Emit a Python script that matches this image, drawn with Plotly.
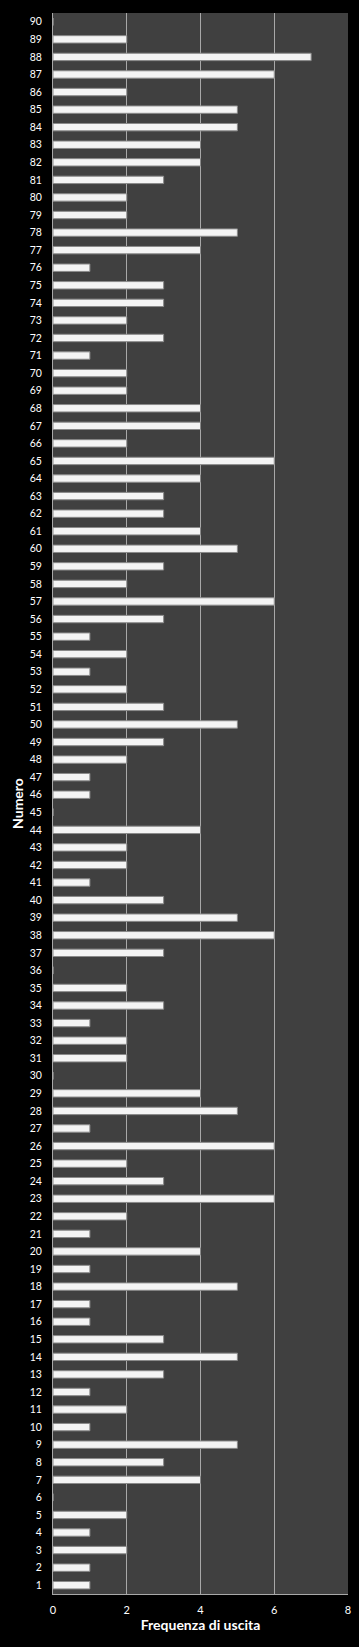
import plotly.graph_objects as go

numeri = list(range(1, 91))
frequenze = [
    1, 1, 2, 1, 2, 0, 4, 3, 5, 1,      # 1-10
    2, 1, 3, 5, 3, 1, 1, 5, 1, 4,      # 11-20
    1, 2, 6, 3, 2, 6, 1, 5, 4, 0,      # 21-30
    2, 2, 1, 3, 2, 0, 3, 6, 5, 3,      # 31-40
    1, 2, 2, 4, 0, 1, 1, 2, 3, 5,      # 41-50
    3, 2, 1, 2, 1, 3, 6, 2, 3, 5,      # 51-60
    4, 3, 3, 4, 6, 2, 4, 4, 2, 2,      # 61-70
    1, 3, 2, 3, 3, 1, 4, 5, 2, 2,      # 71-80
    3, 4, 4, 5, 5, 2, 6, 7, 2, 0,      # 81-90
]
x_ticks = [0, 2, 4, 6, 8]

fig = go.Figure()
fig.add_trace(go.Bar(
    x=frequenze, y=numeri, orientation="h",
    marker=dict(color="#f4f4f4", line=dict(color="#8a8a8a", width=1)),
    width=0.42,
))

fig.update_layout(
    width=359, height=1647, autosize=False,
    paper_bgcolor="#000000", plot_bgcolor="#404040",
    margin=dict(l=53, r=11, t=13, b=53, pad=0),
    showlegend=False,
    font=dict(family="Lato, Open Sans, sans-serif", color="#ffffff", size=11),
    xaxis=dict(
        range=[0, 8], tickvals=x_ticks, ticktext=[str(v) for v in x_ticks],
        showgrid=True, gridcolor="#a8a8a8", gridwidth=1,
        showline=True, linecolor="#a8a8a8", linewidth=1, mirror=False,
        zeroline=False, ticks="", ticklabelstandoff=6, automargin=False,
        title=dict(text="<b>Frequenza di uscita</b>", font=dict(size=14, color="#ffffff"), standoff=4),
        tickfont=dict(size=11, color="#ffffff"),
    ),
    yaxis=dict(
        range=[0.5, 90.5], tickmode="array", tickvals=numeri, ticktext=[str(n) for n in numeri],
        showgrid=False, showline=True, linecolor="#a8a8a8", linewidth=1,
        zeroline=False, ticks="", ticklabelstandoff=8, automargin=False,
        title=dict(text="<b>Numero</b>", font=dict(size=14, color="#ffffff"), standoff=2),
        tickfont=dict(size=10.5, color="#ffffff"),
    ),
)

fig.write_html("out.html")
